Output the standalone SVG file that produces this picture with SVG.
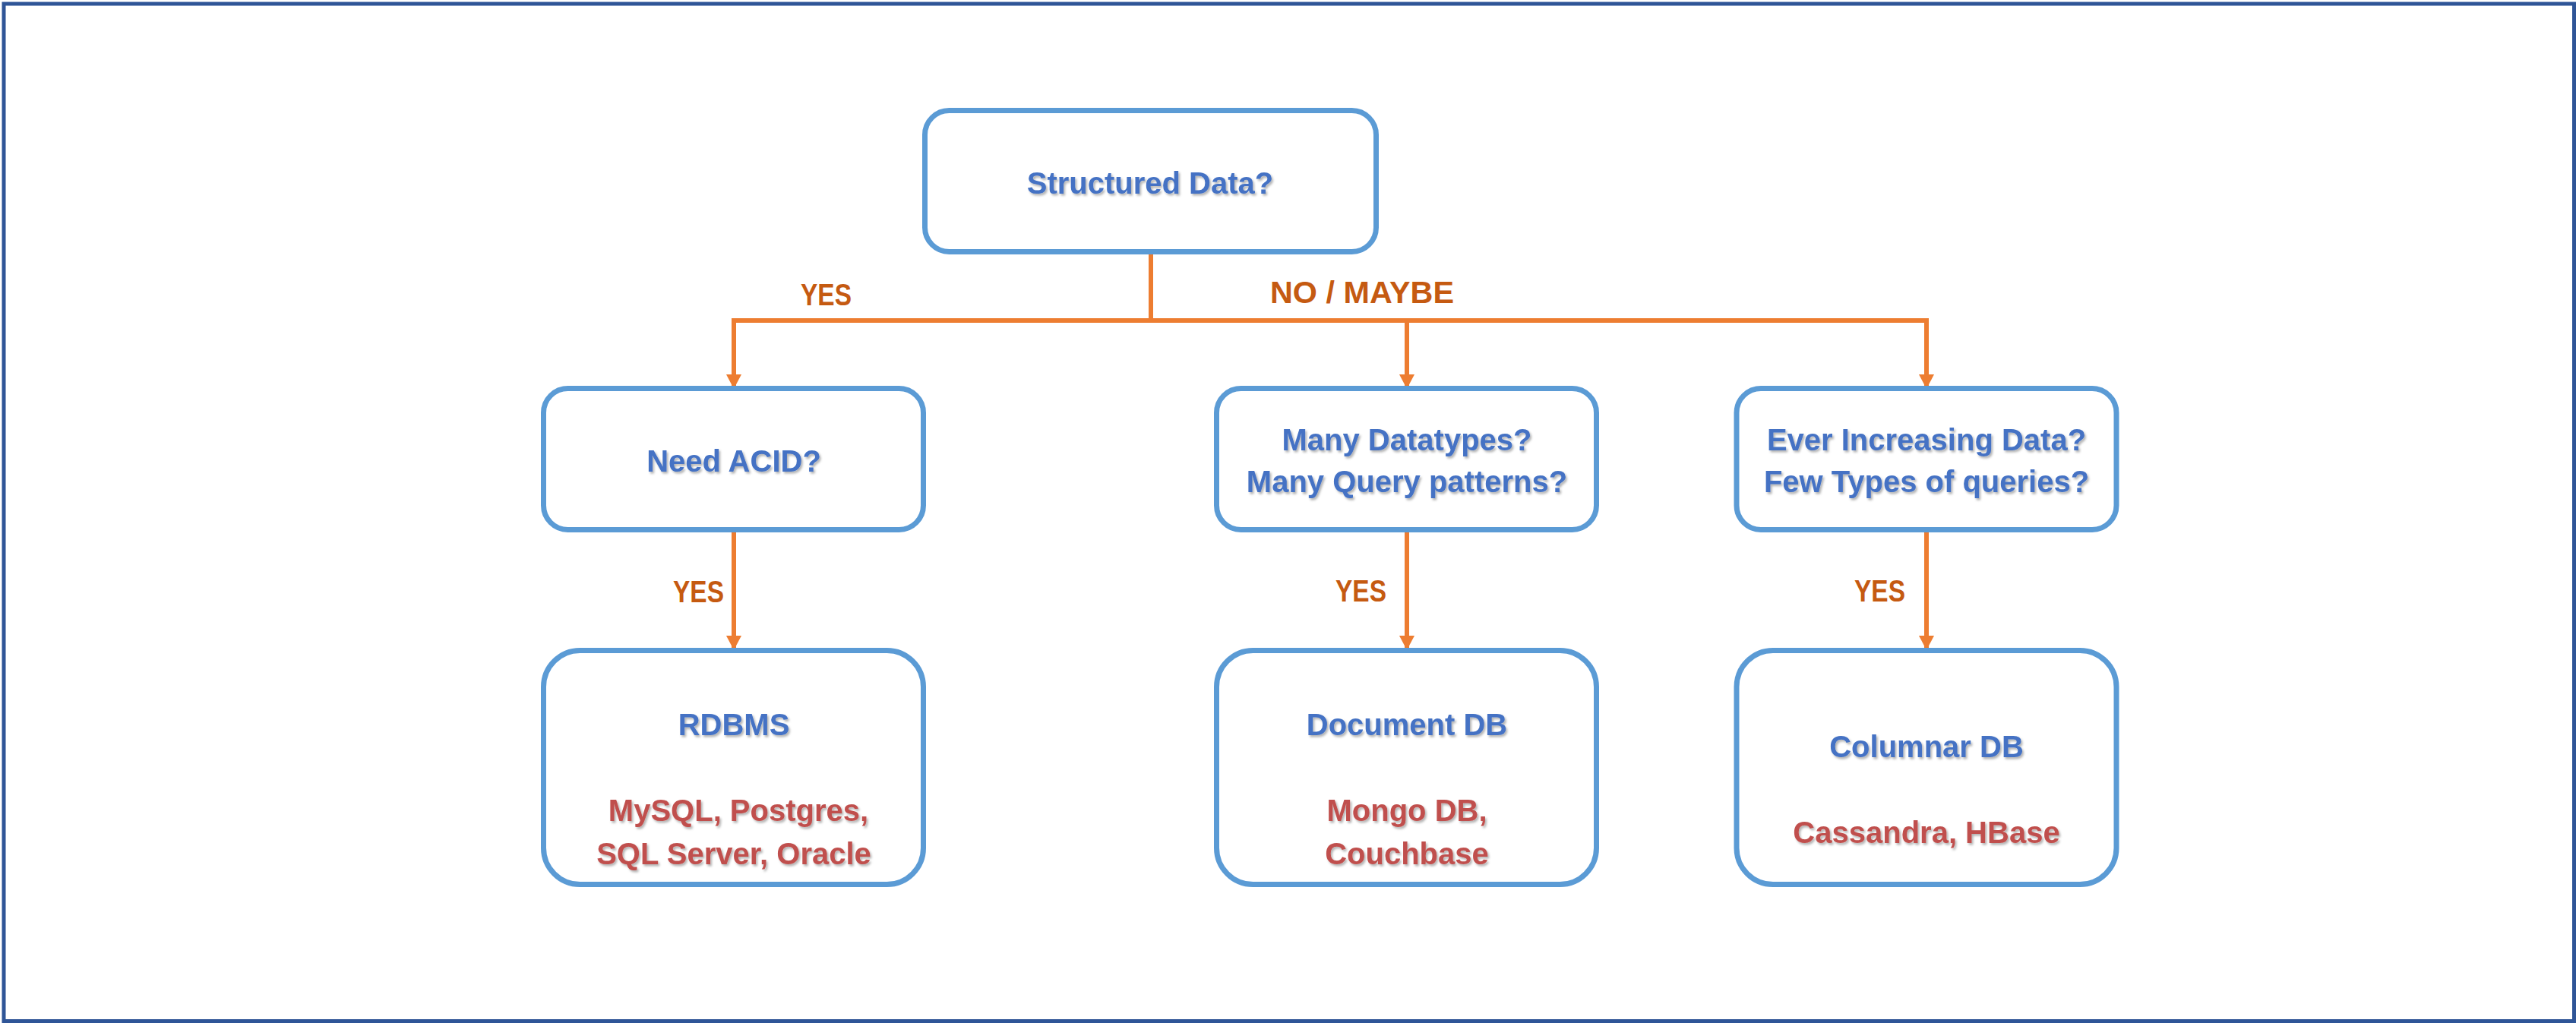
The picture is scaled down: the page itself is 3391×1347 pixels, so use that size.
<svg xmlns="http://www.w3.org/2000/svg" width="3391" height="1347" viewBox="0 0 3391 1347">
  <style>
    .box { fill: #FFFFFF; stroke: #5B9BD5; stroke-width: 7; }
    .conn { fill: none; stroke: #ED7D31; stroke-width: 6; stroke-linejoin: miter; }
    .t { font-family: "Liberation Sans", Arial, sans-serif; font-weight: bold; font-size: 40px; text-anchor: middle; filter: url(#shadow); }
    .q { fill: #4472C4; }
    .ex { fill: #C0504D; }
    .lbl { font-family: "Liberation Sans", Arial, sans-serif; font-weight: bold; font-size: 40px; fill: #C55A11; }
  </style>
  <defs>
    <filter id="shadow" x="-10%" y="-30%" width="120%" height="160%">
      <feDropShadow dx="2" dy="2.5" stdDeviation="1.5" flood-color="#000000" flood-opacity="0.3"/>
    </filter>
    <marker id="arrow" markerUnits="userSpaceOnUse" markerWidth="20" markerHeight="20" refX="19" refY="10" orient="auto">
      <path d="M0,0 L19,10 L0,20 Z" fill="#ED7D31"/>
    </marker>
  </defs>

  <rect x="0" y="0" width="3391" height="1347" fill="#FFFFFF"/>
  <rect id="frame" x="5" y="5" width="3383.5" height="1339.5" fill="none" stroke="#2F5597" stroke-width="5"/>

  <g id="connectors">
    <path class="conn" d="M1515,335 V422"/>
    <path class="conn" d="M1515,422 H966 V512" marker-end="url(#arrow)"/>
    <path class="conn" d="M1515,422 H2536 V512" marker-end="url(#arrow)"/>
    <path class="conn" d="M1852,422 V512" marker-end="url(#arrow)"/>
    <path class="conn" d="M966,701 V856" marker-end="url(#arrow)"/>
    <path class="conn" d="M1852,701 V856" marker-end="url(#arrow)"/>
    <path class="conn" d="M2536,701 V856" marker-end="url(#arrow)"/>
    <text class="lbl" x="1087.5" y="402" text-anchor="middle" textLength="67" lengthAdjust="spacingAndGlyphs">YES</text>
    <text class="lbl" x="1793" y="399" text-anchor="middle" textLength="242" lengthAdjust="spacingAndGlyphs">NO / MAYBE</text>
    <text class="lbl" x="953" y="793" text-anchor="end" textLength="67" lengthAdjust="spacingAndGlyphs">YES</text>
    <text class="lbl" x="1825" y="792" text-anchor="end" textLength="67" lengthAdjust="spacingAndGlyphs">YES</text>
    <text class="lbl" x="2508" y="792" text-anchor="end" textLength="67" lengthAdjust="spacingAndGlyphs">YES</text>
  </g>

  <g id="structured">
    <rect class="box" x="1217.5" y="145.5" width="594" height="186" rx="32" ry="32"/>
    <text class="t q" x="1514" y="255" font-size="41">Structured Data?</text>
  </g>

  <g id="need-acid">
    <rect class="box" x="715.5" y="511.5" width="500" height="186" rx="32" ry="32"/>
    <text class="t q" x="966" y="621">Need ACID?</text>
  </g>

  <g id="many-datatypes">
    <rect class="box" x="1601.5" y="511.5" width="500" height="186" rx="32" ry="32"/>
    <text class="t q" x="1852" y="593">Many Datatypes?</text>
    <text class="t q" x="1852" y="648">Many Query patterns?</text>
  </g>

  <g id="ever-increasing">
    <rect class="box" x="2286" y="511.5" width="500" height="186" rx="32" ry="32"/>
    <text class="t q" x="2536" y="593">Ever Increasing Data?</text>
    <text class="t q" x="2536" y="648">Few Types of queries?</text>
  </g>

  <g id="rdbms">
    <rect class="box" x="715.5" y="856.5" width="500" height="308" rx="48" ry="48"/>
    <text class="t q" x="966" y="968">RDBMS</text>
    <text class="t ex" x="972" y="1081">MySQL, Postgres,</text>
    <text class="t ex" x="966" y="1138">SQL Server, Oracle</text>
  </g>

  <g id="document-db">
    <rect class="box" x="1601.5" y="856.5" width="500" height="308" rx="48" ry="48"/>
    <text class="t q" x="1852" y="968">Document DB</text>
    <text class="t ex" x="1852" y="1081">Mongo DB,</text>
    <text class="t ex" x="1852" y="1138">Couchbase</text>
  </g>

  <g id="columnar-db">
    <rect class="box" x="2286" y="856.5" width="500" height="308" rx="48" ry="48"/>
    <text class="t q" x="2536" y="997">Columnar DB</text>
    <text class="t ex" x="2536" y="1110">Cassandra, HBase</text>
  </g>
</svg>
